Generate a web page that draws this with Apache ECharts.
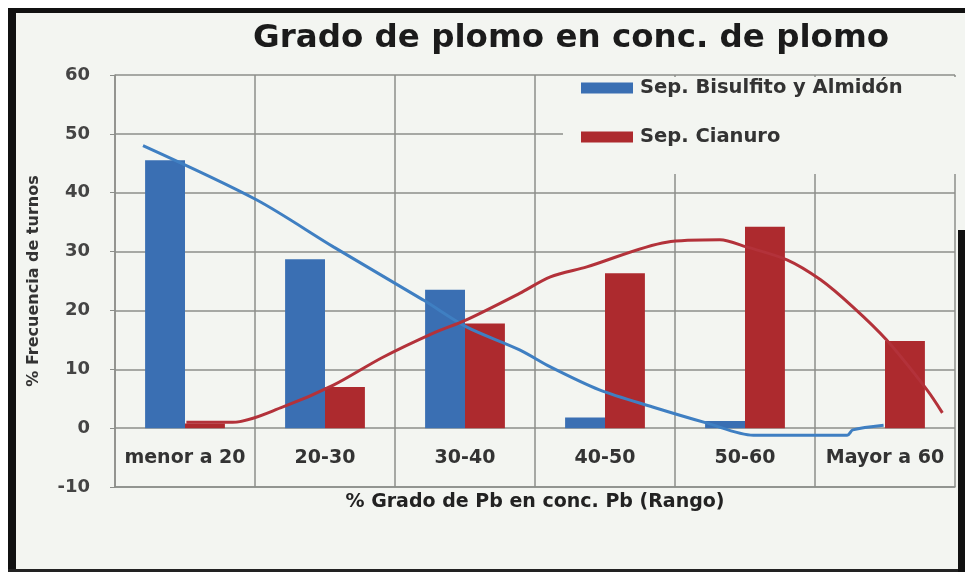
<!DOCTYPE html>
<html>
<head>
<meta charset="utf-8">
<script src="https://cdn.jsdelivr.net/npm/echarts@6/dist/echarts.min.js"></script>
<style>
  html, body { margin: 0; padding: 0; background: #ffffff; }
  #chart { width: 965px; height: 577px; }
</style>
</head>
<body>
<div id="chart"></div>
<script>
// categories and values
const categories = ['menor a 20', '20-30', '30-40', '40-50', '50-60', 'Mayor a 60'];
const bisulfito = [45.5, 28.7, 23.5, 1.8, 1.2, 0];
const cianuro = [0.8, 7.0, 17.8, 26.3, 34.2, 14.8];

// trend lines, x in category units (0 = left edge of first category, 6 = right edge)
const bisulfitoTrend = [
    [0.2, 48], [1.01, 38.8], [1.56, 30.8], [2.2, 21.8], [2.51, 17.2], [2.89, 13.3],
    [3.11, 10.4], [3.46, 6.5], [3.84, 3.6], [4.23, 0.85], [4.56, -1.2], [5.23, -1.2],
    [5.27, -0.3], [5.49, 0.5]
];
const cianuroTrend = [
    [0.51, 1.0], [0.84, 1.0], [1.2, 3.6], [1.56, 7.3], [1.91, 12], [2.27, 16.1],
    [2.51, 18.4], [2.89, 22.9], [3.11, 25.7], [3.37, 27.4], [3.94, 31.6], [4.32, 32],
    [4.51, 30.8], [4.8, 28.6], [5.04, 25.2], [5.27, 20.6], [5.51, 15], [5.8, 6.5],
    [5.91, 2.6]
];

const yMin = -10, yMax = 60, yStep = 10;

const blue = '#3a6fb3';
const red = '#ad2a2e';
const gridColor = '#8c8e8a';
const font = 'DejaVu Sans';

const chart = echarts.init(document.getElementById('chart'));
chart.setOption({
    backgroundColor: '#f3f5f1',
    animation: false,
    textStyle: { fontFamily: font },
    title: {
        text: 'Grado de plomo en conc. de plomo',
        left: 248,
        top: 17,
        textStyle: { fontSize: 32.5, fontWeight: 'bold', color: '#1b1b1b', fontFamily: font }
    },
    legend: {
        orient: 'vertical',
        left: 581,
        top: 78,
        itemWidth: 52,
        itemHeight: 11,
        itemGap: 29,
        padding: 0,
        icon: 'rect',
        data: ['Sep. Bisulfito y Almidón', 'Sep. Cianuro'],
        textStyle: { fontSize: 19.5, fontWeight: 'bold', color: '#333', fontFamily: font, padding: [0, 0, 0, 2] }
    },
    grid: { left: 115, right: 10, top: 75, bottom: 90, containLabel: false },
    xAxis: [
        {
            type: 'category',
            data: categories,
            position: 'bottom',
            name: '% Grado de Pb en conc. Pb (Rango)',
            nameLocation: 'middle',
            nameGap: 5,
            nameTextStyle: { fontSize: 19, fontWeight: 'bold', color: '#222', fontFamily: font },
            axisLine: { show: true, onZero: false, lineStyle: { color: gridColor, width: 1.5 } },
            axisTick: { show: false, interval: 0 },
            // labels sit between the zero line and the bottom edge, as in the original
            axisLabel: { interval: 0, margin: -38, fontSize: 19, fontWeight: 'bold', color: '#333', fontFamily: font },
            splitLine: { show: true, interval: 0, lineStyle: { color: gridColor, width: 1.5 } }
        },
        { type: 'value', min: 0, max: 6, show: false, position: 'top' }
    ],
    yAxis: {
        type: 'value',
        min: yMin,
        max: yMax,
        interval: yStep,
        name: '% Frecuencia de turnos',
        nameLocation: 'middle',
        nameGap: 73,
        nameTextStyle: { fontSize: 16, fontWeight: 'bold', color: '#333', fontFamily: font },
        axisLine: { show: true, lineStyle: { color: gridColor, width: 1.5 } },
        axisTick: { show: true, length: 5, lineStyle: { color: gridColor } },
        axisLabel: { margin: 25, fontSize: 18, fontWeight: 'bold', color: '#444', fontFamily: font },
        splitLine: { show: true, lineStyle: { color: gridColor, width: 1.5 } }
    },
    graphic: [
        // legend box covers grid lines
        { type: 'rect', z: 1, shape: { x: 563, y: 77, width: 393, height: 97 }, style: { fill: '#f3f5f1' } },
        // photo frame
        { type: 'rect', z: 10, shape: { x: 0, y: 0, width: 965, height: 8 }, style: { fill: '#ffffff' } },
        { type: 'rect', z: 10, shape: { x: 0, y: 8, width: 965, height: 5 }, style: { fill: '#111' } },
        { type: 'rect', z: 10, shape: { x: 0, y: 0, width: 8, height: 577 }, style: { fill: '#ffffff' } },
        { type: 'rect', z: 10, shape: { x: 8, y: 8, width: 8, height: 564 }, style: { fill: '#111' } },
        { type: 'rect', z: 10, shape: { x: 8, y: 569, width: 957, height: 3 }, style: { fill: '#222' } },
        { type: 'rect', z: 10, shape: { x: 0, y: 572, width: 965, height: 5 }, style: { fill: '#ffffff' } },
        { type: 'rect', z: 10, shape: { x: 958, y: 230, width: 7, height: 342 }, style: { fill: '#111' } }
    ],
    series: [
        {
            name: 'Sep. Bisulfito y Almidón',
            type: 'bar',
            data: bisulfito,
            barGap: '0%',
            barCategoryGap: '43%',
            itemStyle: { color: blue }
        },
        {
            name: 'Sep. Cianuro',
            type: 'bar',
            data: cianuro,
            itemStyle: { color: red }
        },
        {
            name: 'trend bisulfito',
            type: 'line',
            xAxisIndex: 1,
            data: bisulfitoTrend,
            smooth: 0.3,
            showSymbol: false,
            lineStyle: { color: '#3f7fc2', width: 3 },
            z: 3
        },
        {
            name: 'trend cianuro',
            type: 'line',
            xAxisIndex: 1,
            data: cianuroTrend,
            smooth: 0.3,
            showSymbol: false,
            lineStyle: { color: '#b3323a', width: 3 },
            z: 3
        }
    ]
});
window.addEventListener('resize', function () {
    chart.resize();
});
</script>
</body>
</html>
